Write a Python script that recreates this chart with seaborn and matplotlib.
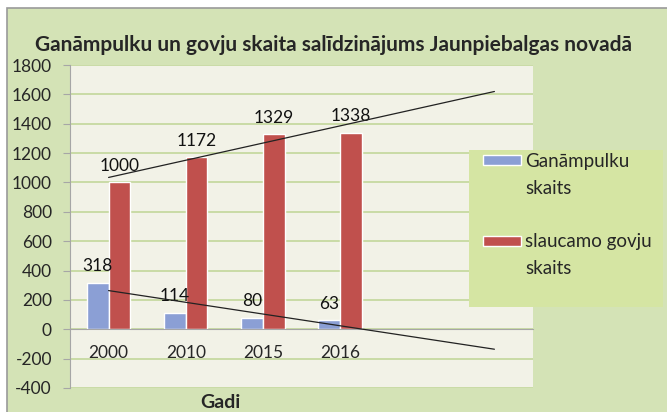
import numpy as np
import pandas as pd
import matplotlib.pyplot as plt
import seaborn as sns
from matplotlib.patches import Rectangle, Patch

years = ["2000", "2010", "2015", "2016"]
ganampulku = [318, 114, 80, 63]
govis = [1000, 1172, 1329, 1338]
series_names = ["Ganāmpulku skaits", "slaucamo govju skaits"]
legend_lines = [["Ganāmpulku", "skaits"], ["slaucamo govju", "skaits"]]
title = "Ganāmpulku un govju skaita salīdzinājums Jaunpiebalgas novadā"

df = pd.DataFrame({
    "Gadi": years * 2,
    "skaits": ganampulku + govis,
    "series": [series_names[0]] * 4 + [series_names[1]] * 4,
})

blue = "#8B9FD5"
red = "#C0504D"

sns.set_style("white")
plt.rcParams["font.family"] = ["Lato", "DejaVu Sans"]
plt.rcParams["axes.unicode_minus"] = False

fig = plt.figure(figsize=(6.67, 4.12), dpi=100)
fig.patch.set_facecolor("white")
fig.patches.append(Rectangle((7 / 667, -0.1), 1.1, 1 - 8 / 412 + 0.1,
                             transform=fig.transFigure, facecolor="#D4E3B6",
                             edgecolor="#9A9A9A", lw=1.2, zorder=-10))

ax = fig.add_axes([70 / 667, 1 - 388 / 412, 463 / 667, 323 / 412])
ax.set_facecolor("#F2F2E7")

sns.barplot(data=df, x="Gadi", y="skaits", hue="series", palette=[blue, red],
            width=0.56, saturation=1, legend=False, ax=ax, zorder=2)

for cont in ax.containers:
    ax.bar_label(cont, padding=6, fontsize=12.5, color="#111111")

# linear trend lines, forecast 2 periods forward
idx = np.arange(len(years))
xs = np.array([0, len(years) + 1])
for vals in (ganampulku, govis):
    k, b = np.polyfit(idx, vals, 1)
    ax.plot(xs, k * xs + b, color="#222222", lw=0.9, zorder=3)

ax.set_xlim(-0.5, 5.5)
ax.set_ylim(-400, 1800)
ax.set_yticks(range(-400, 1801, 200))
ax.yaxis.grid(True, color="#C3D79B", lw=1.2, zorder=0)
ax.set_axisbelow(True)

for s in ["top", "right"]:
    ax.spines[s].set_visible(False)
ax.spines["left"].set_color("#A6A6A6")
ax.spines["bottom"].set_position(("data", 0))
ax.spines["bottom"].set_color("#A6A6A6")

ax.set_xticks(np.arange(-0.5, 5.6, 1))
ax.set_xticklabels([])
ax.set_xticks(idx, minor=True)
ax.set_xticklabels(years, minor=True)
ax.tick_params(axis="x", which="major", length=5, color="#A6A6A6", direction="out")
ax.tick_params(axis="x", which="minor", length=0, pad=11, labelsize=12.5)
ax.tick_params(axis="y", length=5, color="#A6A6A6", pad=8, labelsize=12.5, left=True)
ax.set_xlabel("")
ax.set_ylabel("")

fig.text(0.5, 1 - 45 / 412, title, ha="center", va="center",
         fontsize=15, fontweight="bold")
fig.text(220 / 667, 1 - 402 / 412, "Gadi", ha="center", va="center",
         fontsize=14, fontweight="bold")

# legend box
fig.patches.append(Rectangle((469 / 667, 1 - 307 / 412), 194 / 667, 157 / 412,
                             transform=fig.transFigure, facecolor="#D5E5A3",
                             edgecolor="none", zorder=5))
blank = Patch(facecolor="none", edgecolor="none")
handles = [Patch(facecolor=blue), blank, blank, Patch(facecolor=red), blank]
labels = [legend_lines[0][0], legend_lines[0][1], " ",
          legend_lines[1][0], legend_lines[1][1]]
leg = fig.legend(handles, labels, loc="upper left",
                 bbox_to_anchor=(483 / 667, 1 - 153 / 412),
                 frameon=False, fontsize=13.5,
                 handlelength=2.0, handleheight=0.45, handletextpad=0.25,
                 labelspacing=0.52, borderpad=0, borderaxespad=0)
leg.set_zorder(6)

fig.savefig("out.png", dpi=100, facecolor=fig.get_facecolor())
